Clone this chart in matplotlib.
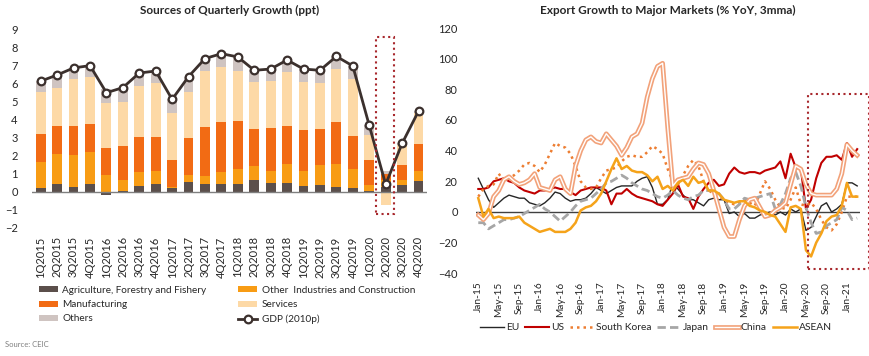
import numpy as np
import pandas as pd
import matplotlib
matplotlib.use("Agg")
import matplotlib.pyplot as plt
import matplotlib.patheffects as pe
from matplotlib.patches import Rectangle

plt.rcParams['font.family'] = ['Lato', 'DejaVu Sans']

# ---- left chart data (ppt contributions) ----
quarters = ['1Q2015', '2Q2015', '3Q2015', '4Q2015', '1Q2016', '2Q2016', '3Q2016', '4Q2016',
            '1Q2017', '2Q2017', '3Q2017', '4Q2017', '1Q2018', '2Q2018', '3Q2018', '4Q2018',
            '1Q2019', '2Q2019', '3Q2019', '4Q2019', '1Q2020', '2Q2020', '3Q2020', '4Q2020']
agri = [0.24, 0.42, 0.28, 0.46, -0.18, 0.06, 0.31, 0.44, 0.22, 0.55, 0.44, 0.42,
        0.46, 0.65, 0.50, 0.50, 0.30, 0.37, 0.28, 0.22, 0.02, 0.28, 0.37, 0.61]
other_ind = [1.39, 1.67, 1.75, 1.74, 0.96, 0.62, 0.80, 0.71, 0.05, 0.37, 0.43, 0.69,
             0.83, 0.77, 0.65, 1.03, 0.86, 1.14, 1.25, 1.02, 0.35, 0.35, 0.31, 0.55]
manuf = [1.60, 1.55, 1.61, 1.55, 1.48, 1.87, 1.94, 1.90, 1.52, 2.04, 2.73, 2.75,
         2.65, 2.07, 2.38, 2.11, 2.24, 1.98, 2.31, 1.86, 1.42, 0.37, 0.80, 1.48]
services = [2.31, 2.13, 2.59, 2.63, 2.46, 2.43, 2.81, 2.95, 2.60, 2.58, 3.11, 3.07,
            2.77, 2.61, 2.62, 3.01, 2.68, 2.51, 2.94, 3.16, 1.35, -0.75, 1.10, 1.70]
others = [0.59, 0.70, 0.63, 0.61, 0.77, 0.79, 0.72, 0.69, 0.76, 0.84, 0.67, 0.72,
          0.76, 0.63, 0.65, 0.65, 0.72, 0.73, 0.72, 0.71, 0.54, 0.16, 0.10, 0.13]
gdp = [6.13, 6.47, 6.86, 6.99, 5.49, 5.77, 6.58, 6.69, 5.12, 6.38, 7.38, 7.65,
       7.47, 6.73, 6.80, 7.30, 6.80, 6.73, 7.50, 6.97, 3.68, 0.41, 2.68, 4.47]

# ---- right chart data (% YoY, 3mma), Jan-15 .. Mar-21 ----
months = pd.date_range('2015-01-01', periods=75, freq='MS')
eu = [22, 15, 8, 3, 6, 9, 11, 10, 9, 9, 6, 5, 4, 6, 9, 13, 12, 9, 7, 8, 8, 9, 12, 16, 14,
      12, 14, 16, 17, 17, 17, 20, 22, 23, 16, 5, 5, 8, 19, 15, 11, 8, 8, 6, 4, 8, 9, 8, 8,
      -1, 0, -3, -1, -4, -4, -2, -1, 0, -2, 0, -2, 2, 0, 2, -12, -10, -3, 4, 6, 0, 2, 5,
      19, 19, 17]
us = [15, 15, 16, 20, 21, 22, 20, 19, 16, 14, 13, 12, 14, 14, 15, 16, 15, 15, 13, 11, 14,
      15, 16, 16, 16, 14, 5, 12, 12, 15, 12, 10, 9, 8, 7, 5, 4, 8, 12, 18, 10, 9, 2, 10,
      15, 19, 21, 17, 18, 25, 29, 26, 25, 26, 26, 25, 27, 28, 29, 33, 22, 38, 29, 28, 2,
      8, 22, 32, 36, 36, 37, 34, 45, 36, 41]
korea = [10, 15, 17, 18, 25, 20, 22, 24, 27, 31, 32, 30, 26, 31, 38, 45, 43, 42, 38, 30,
         20, 16, 15, 16, 22, 27, 28, 29, 33, 36, 37, 36, 36, 39, 43, 41, 38, 28, 20, 18,
         24, 30, 34, 30, 20, 14, 12, 10, 8, 6, 5, 6, 8, 6, 4, 12, 20, 15, 8, 3, 2, 8, 16,
         5, 4, 6, 2, -5, -10, -12, -8, 0, 10, 10, 10]
japan = [-7, -7, -11, -9, -7, -5, -5, -4, -3, -1, 1, 3, 5, 2, 0, -3, -6, -3, 0, 4, 7, 8,
         9, 12, 15, 19, 20, 22, 24, 22, 19, 17, 15, 14, 12, 10, 9, 11, 14, 11, 9, 8, 10,
         11, 14, 14, 14, 12, 8, 2, 2, 5, 9, 8, 9, 10, 11, 12, 2, 5, 12, 22, 26, 17, 3, -7,
         -14, -13, -9, -7, -5, 3, 1, -5, -4]
china = [-2, -5, -1, 10, 14, 21, 23, 20, 18, 19, 21, 25, 16, 15, 14, 21, 23, 15, 12, 30,
         40, 47, 49, 46, 45, 51, 47, 43, 37, 42, 49, 51, 58, 75, 87, 95, 97, 55, 17, 21,
         22, 23, 28, 32, 31, 25, 14, 2, -10, -16, -16, -5, 4, 8, 9, 3, -3, -2, 1, 3, 6, 18,
         30, 28, 18, 12, 11, 11, 11, 11, 15, 25, 44, 40, 37]
asean = [9, -3, 2, -4, -3, -4, -4, -4, -3, -7, -9, -11, -13, -12, -11, -13, -13, -13, -11,
         -7, 1, 3, 4, 7, 12, 20, 28, 35, 28, 30, 27, 26, 26, 24, 20, 23, 15, 17, 14, 19, 21,
         17, 23, 19, 20, 14, 14, 12, 8, 7, 6, 7, 7, 4, 3, 1, 0, -2, -3, -8, -13, 3, 4, 2,
         -25, -29, -20, -14, -6, -3, -2, 4, 19, 10, 10]

fig = plt.figure(figsize=(8.7, 3.56), dpi=100)

# ================= left: stacked bars =================
ax1 = fig.add_axes([0.0364, 0.3596, 0.4541, 0.5581])
x = np.arange(len(quarters))
stack = [
    ('Agriculture, Forestry and Fishery', agri, '#5B4F4B'),
    ('Other  Industries and Construction', other_ind, '#F89C14'),
    ('Manufacturing', manuf, '#F26B14'),
    ('Services', services, '#FDD9A6'),
    ('Others', others, '#CFC4C1'),
]
pos_base = np.zeros(len(x))
neg_base = np.zeros(len(x))
bar_handles = {}
for name, vals, color in stack:
    vals = np.asarray(vals, dtype=float)
    # positives stack upward from zero, negatives downward
    base = np.where(vals >= 0, pos_base, neg_base)
    bars = ax1.bar(x, vals, 0.6, bottom=base, color=color, label=name, zorder=2)
    bar_handles[name] = bars
    pos_base += np.clip(vals, 0, None)
    neg_base += np.clip(vals, None, 0)

gdp_line, = ax1.plot(x, gdp, color='#3B302D', lw=2, marker='o', ms=5.5,
                     mfc='white', mec='#3B302D', mew=1.6, zorder=4, label='GDP (2010p)')
ax1.axhline(0, color='#7F7F7F', lw=1, zorder=3)
ax1.add_patch(Rectangle((20.42, -1.2), 1.1, 9.8, fill=False, ls=':', lw=1.5,
                        ec='#A8282D', zorder=5, clip_on=False))

ax1.set_xlim(-0.55, 23.5)
ax1.set_ylim(-2, 9)
ax1.set_yticks(range(-2, 10))
ax1.set_xticks(x)
ax1.set_xticklabels(quarters, rotation=90)
ax1.tick_params(axis='both', length=0, labelsize=8, colors='#262626')
ax1.tick_params(axis='x', pad=6)
ax1.tick_params(axis='y', pad=10)
for s in ax1.spines.values():
    s.set_visible(False)
ax1.set_title('Sources of Quarterly Growth (ppt)', fontsize=8.5, fontweight='bold',
              color='#262626', pad=11)

order = ['Agriculture, Forestry and Fishery', 'Manufacturing', 'Others',
         'Other  Industries and Construction', 'Services']
handles = [bar_handles[k] for k in order] + [gdp_line]
labels = order + ['GDP (2010p)']
fig.legend(handles, labels, loc='upper left', bbox_to_anchor=(0.034, 0.222), ncol=2,
           frameon=False, fontsize=7.2, handlelength=1.9, handleheight=0.55,
           handletextpad=0.45, columnspacing=3.2, labelspacing=0.52,
           labelcolor='#262626')

# ================= right: lines =================
ax2 = fig.add_axes([0.5468, 0.2323, 0.4414, 0.6890])
m = np.arange(len(months))
ax2.axhline(0, color='#404040', lw=1, zorder=1)
ax2.plot(m, eu, color='#262626', lw=1.0, label='EU', zorder=2)
ax2.plot(m, us, color='#C00000', lw=1.5, label='US', zorder=3)
ax2.plot(m, korea, color='#ED7D31', lw=1.8, ls=(0, (1, 1.6)), label='South Korea', zorder=3)
ax2.plot(m, japan, color='#A6A6A6', lw=2.0, ls=(0, (3, 1.5)), label='Japan', zorder=3)
ax2.plot(m, china, color='white', lw=1.0, label='China', zorder=4,
         path_effects=[pe.Stroke(linewidth=3.4, foreground='#F2A27A'), pe.Normal()])
ax2.plot(m, asean, color='#F5A31A', lw=1.8, label='ASEAN', zorder=5)
ax2.add_patch(Rectangle((64.3, -37), 12.0, 114, fill=False, ls=':', lw=1.5,
                        ec='#A8282D', zorder=6, clip_on=False))

ax2.set_xlim(-0.5, 74.5)
ax2.set_ylim(-40, 120)
ax2.set_yticks(range(-40, 121, 20))
tick_idx = m[::4]
ax2.set_xticks(tick_idx)
ax2.set_xticklabels([months[i].strftime('%b-%y') for i in tick_idx], rotation=90)
ax2.tick_params(axis='both', length=0, labelsize=8, colors='#262626')
ax2.tick_params(axis='x', labelsize=7.3, pad=6)
ax2.tick_params(axis='y', pad=13)
for s in ax2.spines.values():
    s.set_visible(False)
ax2.set_title('Export Growth to Major Markets (% YoY, 3mma)', fontsize=8.5,
              fontweight='bold', color='#262626', pad=10)
h2, l2 = ax2.get_legend_handles_labels()
fig.legend(h2, l2, loc='center', bbox_to_anchor=(0.754, 0.079), ncol=6, frameon=False,
           fontsize=7.4, handlelength=2.3, handletextpad=0.2, columnspacing=0.6,
           labelcolor='#262626')

fig.text(0.006, 0.025, 'Source: CEIC', fontsize=5.5, color='#7F7F7F')

fig.savefig('out.png', dpi=100)
